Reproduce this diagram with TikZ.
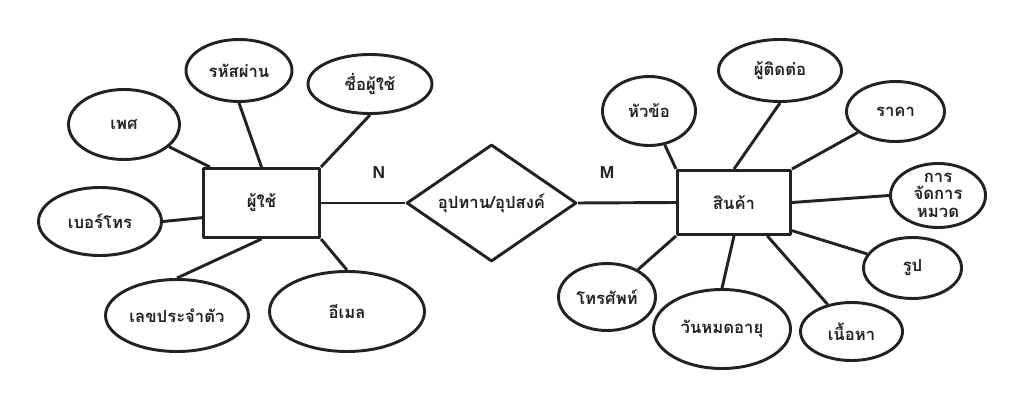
\documentclass[tikz,border=0pt]{standalone}
\usepackage{fontspec}
\setmainfont[Script=Thai]{Loma}
\newfontfamily\latinfont{Liberation Sans}
\definecolor{linegray}{RGB}{34, 34, 34}
\usetikzlibrary{shapes,arrows}

\begin{document}
\begin{tikzpicture}[x=0.75pt, y=-0.75pt,
				>=latex,   %Voreinstellung fuer Pfeilspitzen
				attr/.style 2 args={draw, ellipse, minimum width=(#1-3)*0.75pt, minimum height=(#2-3)*0.75pt, inner sep=0pt},
				entity/.style 2 args={draw, rectangle, minimum width=(#1-3)*0.75pt, minimum height=(#2-3)*0.75pt, inner sep=0pt},
				every node/.style={font=\bfseries\fontsize{12.5}{16}\selectfont},
				color=linegray, line width=2.2pt, line join=round]
				%Bildbereich festlegen
				\useasboundingbox (0,0) rectangle (1023,406);
				% Entitaeten und Beziehung
				\node[entity={119}{72}] (user) at (261.5,203) {ผู้ใช้};
				\node[entity={116}{67}] (product) at (734,202.5) {สินค้า};
				\node[draw, diamond, aspect=1.44, minimum width=170*0.75pt, minimum height=117*0.75pt, inner sep=0pt] (supply) at (491.5,203) {อุปทาน/อุปสงค์};
				\node[font=\latinfont\bfseries\fontsize{13}{15}\selectfont] (n) at (379,173) {N};
				\node[font=\latinfont\bfseries\fontsize{13}{15}\selectfont] (m) at (607,173) {M};
				% Attribute links
				\node[attr={114}{73}] (gender) at (124,124.5) {เพศ};
				\node[attr={109}{65}] (password) at (239,70.5) {รหัสผ่าน};
				\node[attr={127}{62}] (username) at (370,84) {ชื่อผู้ใช้};
				\node[attr={126}{71}] (tel) at (100,221.5) {เบอร์โทร};
				\node[attr={146}{75}] (idno) at (177,315.5) {เลขประจำตัว};
				\node[attr={158}{83}] (email) at (347,311.5) {อีเมล};
				% Attribute rechts
				\node[attr={96}{72}] (topic) at (649,111) {หัวข้อ};
				\node[attr={126}{65}] (contact) at (780,70.5) {ผู้ติดต่อ};
				\node[attr={101}{63}] (price) at (895.5,111.5) {ราคา};
				\node[attr={98}{67}] (category) at (938,195.5) {\raisebox{-6pt}{\smash{\begin{tabular}{@{}c@{}}การ\\[-3pt]จัดการ\\[-3pt]หมวด\end{tabular}}}};
				\node[attr={101}{64}] (picture) at (912.5,268) {รูป};
				\node[attr={105}{61}] (content) at (851.5,331.5) {เนื้อหา};
				\node[attr={140}{82}] (expiry) at (722,329) {วันหมดอายุ};
				\node[attr={100}{70}] (phone) at (607,297) {โทรศัพท์};
				% Verbindungen zeichnen
				\draw (user.east) -- (supply.west);
				\draw (supply.east) -- (product.west);
				\draw (gender) -- ([xshift=6pt]user.north west);
				\draw (tel.east) -- ([yshift=-11pt]user.west);
				\foreach \a/\b in {password.south/user.north, username.south/user.north east, idno.north/user.south, email.north/user.south east}
					\draw (\a) -- (\b);
				\draw (picture) -- ([yshift=4pt]product.south east);
				\draw (content) -- ([xshift=25pt]product.south);
				\foreach \a/\b in {topic/product.north west, contact.south/product.north, price/product.north east, category.west/product.east, expiry.north/product.south, phone/product.south west}
					\draw (\a) -- (\b);
\end{tikzpicture}
\end{document}
